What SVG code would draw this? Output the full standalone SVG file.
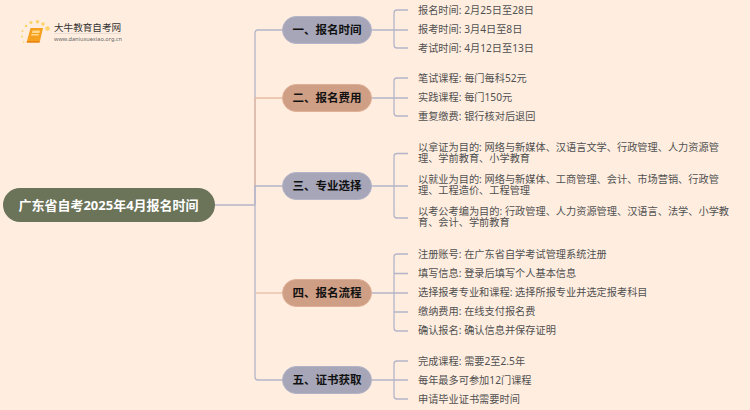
<svg xmlns="http://www.w3.org/2000/svg" width="750" height="410" viewBox="0 0 750 410">
<style>
text{font-family:"Noto Sans","Noto Sans CJK SC",sans-serif}
.c{font-size:10.2px;fill:#505050}
.b{font-size:11.500px;font-weight:700;fill:#111;text-anchor:middle}
.g{fill:none;stroke:#b4b4c8;stroke-width:1.3}
.p{fill:none;stroke:#e6bba2;stroke-width:1.3}
.g1{fill:#a6a6b8;stroke:#b4b4c8}.p1{fill:#cf9f85;stroke:#e0b096}
</style>
<rect width="750" height="410" fill="#ffeee0"/>
<g id="logo">
<g fill="#fbd36a"><circle cx="47.500" cy="28.500" r="2.200"/><circle cx="43" cy="24" r="1.800"/><circle cx="37.500" cy="21.800" r="1.800"/><circle cx="31" cy="22.500" r="1.600"/><circle cx="26" cy="26" r="1.300"/><circle cx="22.500" cy="31" r="1"/><circle cx="22" cy="36.500" r="1"/><circle cx="23.500" cy="42" r="0.800"/></g>
<path d="M30.500 28h12.500l-3 13h-13z" fill="#f5a01f"/><path d="M27 41h13l-.5 1.700h-13z" fill="#e98612"/><path d="M32.500 30.500h7.500l-.6 2.500h-7.500z M31.500 34h7.500l-.4 1.500h-7.500z" fill="#ffd88a"/>
<text x="54" y="31" font-size="9.600" fill="#333">大牛教育自考网</text>
<line x1="54" y1="33.500" x2="121" y2="33.500" stroke="#ccc" stroke-width=".5"/>
<text x="54" y="41" font-size="5.600" fill="#666">www.daniuxuexiao.org.cn</text>
</g>
<g id="connectors">
<path class="g" d="M215 205H255"/>
<path class="g" d="M282 30H258Q255 30 255 33V205"/>
<path class="p" d="M282 98H255V186"/>
<path class="g" d="M282 186H255V205"/>
<path class="g" d="M255 205V377Q255 380 258 380H282"/>
<path class="p" d="M282 293H256"/>
<path class="g" d="M372 30H408M408 10H397Q394 10 394 13V45Q394 48 397 48H408"/>
<path class="g" d="M372 98H408M408 78H397Q394 78 394 81V113Q394 116 397 116H408"/>
<path class="g" d="M372 186H408M408 153.500H397Q394 153.500 394 156.500V215Q394 218 397 218H408"/>
<path class="g" d="M372 293H408M408 254H397Q394 254 394 257V328Q394 331 397 331H408M394 273.500H408M394 312H408"/>
<path class="g" d="M372 380H408M408 361H397Q394 361 394 364V396Q394 399 397 399H408"/>
</g>
<g id="root"><rect x="3" y="188" width="212" height="34" rx="17" fill="#6b7359"/><text x="108.500" y="209.500" font-size="13" font-weight="700" fill="#fff" text-anchor="middle">广东省自考2025年4月报名时间</text></g>
<g id="n1"><rect x="282.500" y="16.500" width="89" height="27" rx="13.500" class="g1"/><text x="327" y="34" class="b">一、报名时间</text>
<text x="418" y="13.500" class="c">报名时间: 2月25日至28日</text><text x="418" y="32.500" class="c">报考时间: 3月4日至8日</text><text x="418" y="51.500" class="c">考试时间: 4月12日至13日</text></g>
<g id="n2"><rect x="282.500" y="84.500" width="89" height="27" rx="13.500" class="p1"/><text x="327" y="102" class="b">二、报名费用</text>
<text x="418" y="82" class="c">笔试课程: 每门每科52元</text><text x="418" y="101" class="c">实践课程: 每门150元</text><text x="418" y="120" class="c">重复缴费: 银行核对后退回</text></g>
<g id="n3"><rect x="282.500" y="172.500" width="89" height="27" rx="13.500" class="g1"/><text x="327" y="190" class="b">三、专业选择</text>
<text class="c"><tspan x="418" y="150.500">以拿证为目的: 网络与新媒体、汉语言文学、行政管理、人力资源管</tspan><tspan x="418" y="162">理、学前教育、小学教育</tspan></text>
<text class="c"><tspan x="418" y="182.500">以就业为目的: 网络与新媒体、工商管理、会计、市场营销、行政管</tspan><tspan x="418" y="194">理、工程造价、工程管理</tspan></text>
<text class="c"><tspan x="418" y="214.800">以考公考编为目的: 行政管理、人力资源管理、汉语言、法学、小学教</tspan><tspan x="418" y="226.300">育、会计、学前教育</tspan></text></g>
<g id="n4"><rect x="282.500" y="279.500" width="89" height="27" rx="13.500" class="p1"/><text x="327" y="297" class="b">四、报名流程</text>
<text x="418" y="258" class="c">注册账号: 在广东省自学考试管理系统注册</text><text x="418" y="277" class="c">填写信息: 登录后填写个人基本信息</text><text x="418" y="296" class="c">选择报考专业和课程: 选择所报专业并选定报考科目</text><text x="418" y="315" class="c">缴纳费用: 在线支付报名费</text><text x="418" y="334" class="c">确认报名: 确认信息并保存证明</text></g>
<g id="n5"><rect x="282.500" y="366.500" width="89" height="27" rx="13.500" class="g1"/><text x="327" y="384" class="b">五、证书获取</text>
<text x="418" y="364.500" class="c">完成课程: 需要2至2.5年</text><text x="418" y="383.500" class="c">每年最多可参加12门课程</text><text x="418" y="402.500" class="c">申请毕业证书需要时间</text></g>
</svg>
